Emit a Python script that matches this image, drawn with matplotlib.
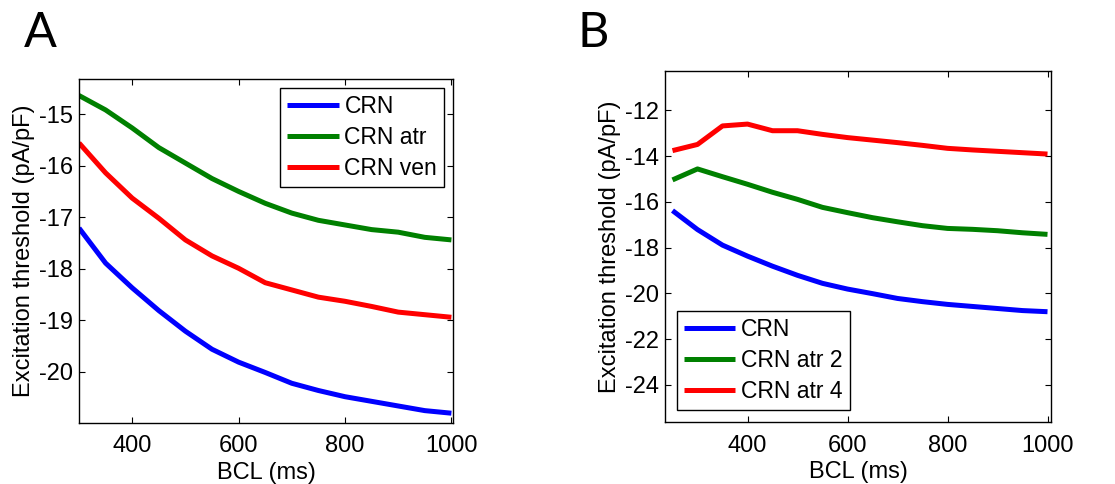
import matplotlib
matplotlib.use("Agg")
import matplotlib.pyplot as plt

plt.rcParams['font.family'] = ['Liberation Sans', 'DejaVu Sans']
plt.rcParams['axes.unicode_minus'] = False

# Panel A data
bcl_a = [300, 350, 400, 450, 500, 550, 600, 650, 700, 750, 800, 850, 900, 950, 1000]
crn_a = [-17.21, -17.89, -18.37, -18.81, -19.21, -19.56, -19.81, -20.01, -20.22, -20.36, -20.48, -20.57, -20.66, -20.75, -20.80]
crn_atr_a = [-14.64, -14.92, -15.27, -15.65, -15.95, -16.25, -16.50, -16.73, -16.92, -17.06, -17.15, -17.24, -17.29, -17.39, -17.44]
crn_ven_a = [-15.56, -16.14, -16.63, -17.02, -17.44, -17.75, -17.99, -18.27, -18.41, -18.55, -18.63, -18.73, -18.84, -18.89, -18.94]

# Panel B data
bcl_b = [250, 300, 350, 400, 450, 500, 550, 600, 650, 700, 750, 800, 850, 900, 950, 1000]
crn_b = [-16.38, -17.21, -17.89, -18.37, -18.81, -19.21, -19.56, -19.81, -20.01, -20.22, -20.36, -20.48, -20.57, -20.66, -20.75, -20.80]
crn_atr2_b = [-15.04, -14.56, -14.90, -15.23, -15.58, -15.89, -16.24, -16.47, -16.69, -16.87, -17.04, -17.16, -17.20, -17.26, -17.35, -17.42]
crn_atr4_b = [-13.76, -13.49, -12.68, -12.60, -12.89, -12.89, -13.05, -13.19, -13.30, -13.41, -13.53, -13.66, -13.73, -13.79, -13.85, -13.91]

xticks = [400, 600, 800, 1000]
yticks_a = [-20, -19, -18, -17, -16, -15]
yticks_b = [-24, -22, -20, -18, -16, -14, -12]

labels_a = ['CRN', 'CRN atr', 'CRN ven']
labels_b = ['CRN', 'CRN atr 2', 'CRN atr 4']
colors = ['#0000ff', '#008000', '#ff0000']

W, H = 1115, 484
fig = plt.figure(figsize=(W / 100, H / 100), dpi=100)

def px_axes(l, t, r, b):
    return fig.add_axes([l / W, 1 - b / H, (r - l) / W, (b - t) / H])

fs = 17
lfs = 16.5

def style(ax):
    ax.tick_params(direction='in', top=True, right=True, length=4, width=0.8,
                   labelsize=fs, pad=4)
    ax.tick_params(axis='x', pad=9)
    for s in ax.spines.values():
        s.set_linewidth(1.0)
    ax.set_xlabel('BCL (ms)', fontsize=fs, labelpad=3)
    ax.set_ylabel('Excitation threshold (pA/pF)', fontsize=fs, labelpad=3)

axA = px_axes(79, 79, 453, 423)
for y, c, lab in zip([crn_a, crn_atr_a, crn_ven_a], colors, labels_a):
    axA.plot(bcl_a, y, color=c, lw=3.6, label=lab, solid_capstyle='butt')
axA.set_xlim(300, 1003)
axA.set_ylim(-20.99, -14.32)
axA.set_xticks(xticks)
axA.set_yticks(yticks_a)
style(axA)
legA = axA.legend(loc='upper right', bbox_to_anchor=(444 / W, 1 - 88 / H),
                  bbox_transform=fig.transFigure, fontsize=lfs, frameon=True,
                  fancybox=False, edgecolor='black', framealpha=1,
                  handlelength=2.25, handletextpad=0.25, labelspacing=0.35,
                  borderpad=0.3, borderaxespad=0)
legA.get_frame().set_linewidth(1.0)

axB = px_axes(665, 71, 1051, 422)
for y, c, lab in zip([crn_b, crn_atr2_b, crn_atr4_b], colors, labels_b):
    axB.plot(bcl_b, y, color=c, lw=3.6, label=lab, solid_capstyle='butt')
axB.set_xlim(235, 1007)
axB.set_ylim(-25.62, -10.28)
axB.set_xticks(xticks)
axB.set_yticks(yticks_b)
style(axB)
legB = axB.legend(loc='lower left', bbox_to_anchor=(677 / W, 1 - 410 / H),
                  bbox_transform=fig.transFigure, fontsize=lfs, frameon=True,
                  fancybox=False, edgecolor='black', framealpha=1,
                  handlelength=2.25, handletextpad=0.25, labelspacing=0.35,
                  borderpad=0.3, borderaxespad=0)
legB.get_frame().set_linewidth(1.0)

fig.text(24 / W, 1 - 47 / H, 'A', fontsize=35, family=['Lato', 'DejaVu Sans'],
         ha='left', va='baseline')
fig.text(577 / W, 1 - 47 / H, 'B', fontsize=35, family=['Lato', 'DejaVu Sans'],
         ha='left', va='baseline')

fig.savefig('out.png', dpi=100)
